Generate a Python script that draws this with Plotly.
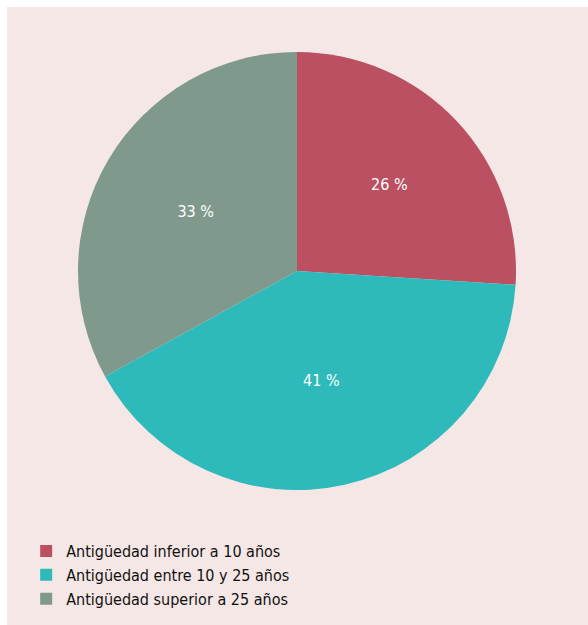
import plotly.graph_objects as go

# Distribution of dwellings by age bracket
categories = [
    "Antigüedad inferior a 10 años",
    "Antigüedad entre 10 y 25 años",
    "Antigüedad superior a 25 años",
]
shares = [26, 41, 33]
colors = ["#BA5061", "#2EBABB", "#7F9A8C"]

W, H = 588, 625
PANEL_BG = "#F5E7E6"
FONT = "DejaVu Sans Condensed, Liberation Sans Narrow, sans-serif"

fig = go.Figure(
    go.Pie(
        labels=categories,
        values=shares,
        sort=False,
        direction="clockwise",
        rotation=0,
        marker=dict(colors=colors, line=dict(width=0)),
        texttemplate="%{value} %",
        textposition="inside",
        insidetextorientation="horizontal",
        textfont=dict(color="white", size=16, family=FONT),
        hoverinfo="label+percent",
        domain=dict(x=[0.1222, 0.8761], y=[0.2184, 0.9272]),
    )
)

fig.update_layout(
    width=W,
    height=H,
    margin=dict(l=7, r=0, t=7, b=0),
    paper_bgcolor="white",
    showlegend=True,
    legend=dict(
        x=0.033,
        y=0.147,
        xanchor="left",
        yanchor="top",
        orientation="v",
        bgcolor="rgba(0,0,0,0)",
        font=dict(family=FONT, size=16, color="#111111"),
        itemwidth=30,
        tracegroupgap=0,
    ),
    shapes=[
        dict(
            type="rect",
            xref="paper",
            yref="paper",
            x0=0,
            x1=1,
            y0=0,
            y1=1,
            fillcolor=PANEL_BG,
            line=dict(width=0),
            layer="below",
        )
    ],
)

fig.write_html("out.html")
